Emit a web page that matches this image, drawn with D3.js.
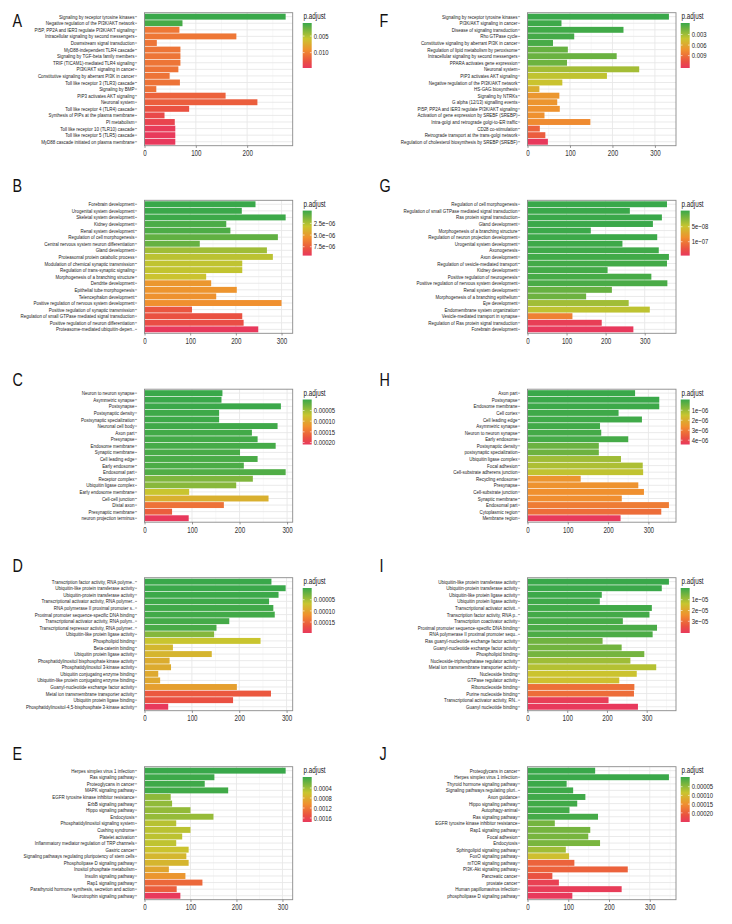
<!DOCTYPE html>
<html><head><meta charset="utf-8">
<script src="https://cdn.jsdelivr.net/npm/d3@7"></script>
<style>body{margin:0;background:#fff} svg{display:block}</style>
</head><body><svg id="c" width="732" height="924"></svg>
<script>
// ---------- DATA ----------
const catsA = ["Signaling by receptor tyrosine kinases","Negative regulation of the PI3K/AKT network","PI5P, PP2A and IER3 regulate PI3K/AKT signaling","Intracellular signaling by second messengers","Downstream signal transduction","MyD88-independent TLR4 cascade","Signaling by TGF-beta family members","TRIF (TICAM1)-mediated TLR4 signaling","PI3K/AKT signaling in cancer","Constitutive signaling by aberrant PI3K in cancer","Toll like receptor 3 (TLR3) cascade","Signaling by BMP","PIP3 activates AKT signaling","Neuronal system","Toll like receptor 4 (TLR4) cascade","Synthesis of PIPs at the plasma membrane","PI metabolism","Toll like receptor 10 (TLR10) cascade","Toll like receptor 5 (TLR5) cascade","MyD88 cascade initiated on plasma membrane"];
const valsA = [275,74,68,179,24,70,70,70,66,49,69,23,158,220,87,39,59,60,60,60];
const padjA = [0.0014,0.0018,0.0104,0.0104,0.0105,0.0105,0.0105,0.0105,0.0106,0.0106,0.0106,0.0107,0.0115,0.0117,0.0124,0.0130,0.0134,0.0141,0.0142,0.0143];
const ticksA = [0,100,200];
const legA = [0.005,0.010];
const legTxtA = ["0.005","0.010"];

const catsB = ["Forebrain development","Urogenital system development","Skeletal system development","Kidney development","Renal system development","Regulation of cell morphogenesis","Central nervous system neuron differentiation","Gland development","Proteasomal protein catabolic process","Modulation of chemical synaptic transmission","Regulation of trans-synaptic signaling","Morphogenesis of a branching structure","Dendrite development","Epithelial tube morphogenesis","Telencephalon development","Positive regulation of nervous system development","Positive regulation of synaptic transmission","Regulation of small GTPase mediated signal transduction","Positive regulation of neuron differentiation","Proteasome-mediated ubiquitin-depen.."];
const valsB = [243,213,309,179,188,292,121,268,281,214,214,135,146,202,157,300,104,214,217,249];
const padjB = [2e-9,5e-8,1e-7,4e-7,4.5e-7,9e-7,1.0e-6,2.3e-6,2.9e-6,3.0e-6,3.05e-6,3.3e-6,5.2e-6,5.3e-6,5.4e-6,5.5e-6,7.6e-6,7.8e-6,8.0e-6,9.16e-6];
const ticksB = [0,100,200,300];
const legB = [2.5e-6,5.0e-6,7.5e-6];
const legTxtB = ["2.5e\u221206","5.0e\u221206","7.5e\u221206"];

const catsC = ["Neuron to neuron synapse","Asymmetric synapse","Postsynapse","Postsynaptic density","Postsynaptic specialization","Neuronal cell body","Axon part","Presynapse","Endosome membrane","Synaptic membrane","Cell leading edge","Early endosome","Endosomal part","Receptor complex","Ubiquitin ligase complex","Early endosome membrane","Cell-cell junction","Distal axon","Presynaptic membrane","neuron projection terminus"];
const valsC = [164,162,287,157,157,280,226,238,276,201,238,209,297,228,193,94,261,167,58,93];
const padjC = [3.8e-6,4.5e-6,5e-6,6e-6,6e-6,7e-6,8e-6,9e-6,1e-5,1.1e-5,1.2e-5,1.3e-5,1.5e-5,3.8e-5,4.2e-5,7.4e-5,9.4e-5,1.48e-4,1.64e-4,2.04e-4];
const ticksC = [0,100,200,300];
const legC = [5e-5,1e-4,1.5e-4,2e-4];
const legTxtC = ["0.00005","0.00010","0.00015","0.00020"];

const catsD = ["Transcription factor activity, RNA polyme..","Ubiquitin-like protein transferase activity","Ubiquitin-protein transferase activity","Transcriptional activator activity, RNA polymer..","RNA polymerase II proximal promoter s..","Proximal promoter sequence-specific DNA binding","Transcriptional activator activity, RNA polym..","Transcriptional repressor activity, RNA polymer..","Ubiquitin-like protein ligase activity","Phospholipid binding","Beta-catenin binding","Ubiquitin protein ligase activity","Phosphatidylinositol bisphosphate kinase activity","Phosphatidylinositol 3-kinase activity","Ubiquitin conjugating enzyme binding","Ubiquitin-like protein conjugating enzyme binding","Guanyl-nucleotide exchange factor activity","Metal ion transmembrane transporter activity","Ubiquitin protein ligase binding","Phosphatidylinositol-4,5-bisphosphate 3-kinase activity"];
const valsD = [268,298,283,263,272,275,179,152,147,245,60,142,53,56,29,33,195,267,187,50];
const padjD = [2.6e-6,3e-6,4e-6,5e-6,6e-6,7e-6,8e-6,1e-5,3.8e-5,7e-5,8.2e-5,8.4e-5,9.2e-5,9.3e-5,9.5e-5,9.6e-5,1.04e-4,1.6e-4,1.66e-4,1.94e-4];
const ticksD = [0,100,200,300];
const legD = [5e-5,1e-4,1.5e-4];
const legTxtD = ["0.00005","0.00010","0.00015"];

const catsE = ["Herpes simplex virus 1 infection","Ras signaling pathway","Proteoglycans in cancer","MAPK signaling pathway","EGFR tyrosine kinase inhibitor resistance","ErbB signaling pathway","Hippo signaling pathway","Endocytosis","Phosphatidylinositol signaling system","Cushing syndrome","Platelet activation","Inflammatory mediator regulation of TRP channels","Gastric cancer","Signaling pathways regulating pluripotency of stem cells","Phospholipase D signaling pathway","Inositol phosphate metabolism","Insulin signaling pathway","Rap1 signaling pathway","Parathyroid hormone synthesis, secretion and action","Neurotrophin signaling pathway"];
const valsE = [307,152,131,182,57,60,100,150,69,100,82,69,96,91,96,53,89,126,70,78];
const padjE = [5e-6,2e-5,3e-5,4e-5,3.6e-4,3.7e-4,3.8e-4,3.9e-4,5.3e-4,5.4e-4,5.5e-4,5.6e-4,6.2e-4,7.2e-4,7.3e-4,8.6e-4,9.8e-4,1.30e-3,1.37e-3,1.715e-3];
const ticksE = [0,100,200,300];
const legE = [4e-4,8e-4,1.2e-3,1.6e-3];
const legTxtE = ["0.0004","0.0008","0.0012","0.0016"];

const catsF = ["Signaling by receptor tyrosine kinases","PI3K/AKT signaling in cancer","Disease of signaling transduction","Rho GTPase cycle","Constitutive signaling by aberrant PI3K in cancer","Regulation of lipid metabolism by peroxisome","Intracellular signaling by second messengers","PPARA activates gene expression","Neuronal system","PIP3 activates AKT signaling","Negative regulation of the PI3K/AKT network","HS-GAG biosynthesis","Signaling by NTRKs","G alpha (12/13) signalling events","PI5P, PP2A and IER3 regulate PI3K/AKT signaling","Activation of gene expression by SREBF (SREBP)","Intra-golgi and retrograde golgi-to-ER traffic","CD28 co-stimulation","Retrograde transport at the trans-golgi network","Regulation of cholesterol biosynthesis by SREBP (SREBF)"];
const valsF = [333,80,226,110,60,95,210,93,263,187,82,28,75,70,76,40,148,29,42,48];
const padjF = [5e-5,2e-4,3e-4,4e-4,5e-4,1.4e-3,1.5e-3,1.6e-3,3.2e-3,4.05e-3,4.4e-3,5.6e-3,6.95e-3,7.05e-3,7.2e-3,7.3e-3,7.6e-3,9.5e-3,9.8e-3,1.22e-2];
const ticksF = [0,100,200,300];
const legF = [0.003,0.006,0.009];
const legTxtF = ["0.003","0.006","0.009"];

const catsG = ["Regulation of cell morphogenesis","Regulation of small GTPase mediated signal transduction","Ras protein signal transduction","Gland development","Morphogenesis of a branching structure","Regulation of neuron projection development","Urogenital system development","Axonogenesis","Axon development","Regulation of vesicle-mediated transport","Kidney development","Positive regulation of neurogenesis","Positive regulation of nervous system development","Renal system development","Morphogenesis of a branching epithelium","Eye development","Endomembrane system organization","Vesicle-mediated transport in synapse","Regulation of Ras protein signal transduction","Forebrain development"];
const valsG = [357,262,344,321,162,332,243,336,362,357,205,317,358,216,150,259,313,115,190,271];
const padjG = [1e-10,3e-10,5e-10,8e-10,1e-9,1.5e-9,2e-9,2.5e-9,3e-9,3.5e-9,4e-9,5e-9,6e-9,1.6e-8,1.8e-8,3.6e-8,4.6e-8,9.4e-8,1.38e-7,1.425e-7];
const ticksG = [0,100,200,300];
const legG = [5e-8,1e-7];
const legTxtG = ["5e\u221208","1e\u221207"];

const catsH = ["Axon part","Postsynapse","Endosome membrane","Cell cortex","Cell leading edge","Asymmetric synapse","Neuron to neuron synapse","Early endosome","Postsynaptic density","postsynaptic specialization","Ubiquitin ligase complex","Focal adhesion","Cell-substrate adherens junction","Recycling endosome","Presynapse","Cell-substrate junction","Synaptic membrane","Endosomal part","Cytoplasmic region","Membrane region"];
const valsH = [267,327,327,226,284,180,183,250,177,177,232,286,287,132,275,289,234,351,332,231];
const padjH = [4.25e-8,6e-8,8e-8,1e-7,1.2e-7,1.4e-7,1.6e-7,1.8e-7,5.6e-7,5.8e-7,1.1e-6,1.25e-6,1.45e-6,2.5e-6,2.55e-6,2.6e-6,2.65e-6,2.95e-6,3.2e-6,4.32e-6];
const ticksH = [0,100,200,300];
const legH = [1e-6,2e-6,3e-6,4e-6];
const legTxtH = ["1e\u221206","2e\u221206","3e\u221206","4e\u221206"];

const catsI = ["Ubiquitin-like protein transferase activity","Ubiquitin-protein transferase activity","Ubiquitin-like protein ligase activity","Ubiquitin protein ligase activity","Transcriptional activator activit..","Transcription factor activity, RNA p..","Transcription coactivator activity","Proximal promoter sequence-specific DNA binding","RNA polymerase II proximal promoter sequ..","Ras guanyl-nucleotide exchange factor activity","Guanyl-nucleotide exchange factor activity","Phospholipid binding","Nucleoside-triphosphatase regulator activity","Metal ion transmembrane transporter activity","Nucleoside binding","GTPase regulator activity","Ribonucleoside binding","Purine nucleoside binding","Transcriptional activator activity, RN..","Guanyl nucleotide binding"];
const valsI = [356,338,187,182,313,307,240,326,315,189,237,294,259,324,275,231,269,268,204,278];
const padjI = [2e-7,4e-7,6e-7,8e-7,1e-6,1.2e-6,1.5e-6,1.8e-6,2e-6,5.5e-6,5.7e-6,6e-6,1.0e-5,1.2e-5,1.45e-5,1.5e-5,2.9e-5,2.95e-5,3.86e-5,3.98e-5];
const ticksI = [0,100,200,300];
const legI = [1e-5,2e-5,3e-5];
const legTxtI = ["1e\u221205","2e\u221205","3e\u221205"];

const catsJ = ["Proteoglycans in cancer","Herpes simplex virus 1 infection","Thyroid hormone signaling pathway","Signaling pathways regulating pluri..","Axon guidance","Hippo signaling pathway","Autophagy-animal","Ras signaling pathway","EGFR tyrosine kinase inhibitor resistance","Rap1 signaling pathway","Focal adhesion","Endocytosis","Sphingolipid signaling pathway","FoxO signaling pathway","mTOR signaling pathway","PI3K-Akt signaling pathway","Pancreatic cancer","prostate cancer","Human papillomavirus infection","phospholipase D signaling pathway"];
const valsJ = [166,347,96,112,142,122,103,173,67,154,149,178,94,102,115,246,61,77,231,110];
const padjJ = [1e-6,2e-6,3e-6,4e-6,5e-6,6e-6,7e-6,8e-6,3.6e-5,3.7e-5,3.8e-5,3.9e-5,6.2e-5,9.4e-5,1.92e-4,1.93e-4,2.08e-4,2.34e-4,2.4e-4,2.46e-4];
const ticksJ = [0,100,200,300];
const legJ = [5e-5,1e-4,1.5e-4,2e-4];
const legTxtJ = ["0.00005","0.00010","0.00015","0.00020"];

const letters = ["A","B","C","D","E","F","G","H","I","J"];

// ---------- BUILD ----------
const panels = [
 {cats:catsA, vals:valsA, p:padjA, ticks:ticksA, leg:legA, legTxt:legTxtA},
 {cats:catsB, vals:valsB, p:padjB, ticks:ticksB, leg:legB, legTxt:legTxtB},
 {cats:catsC, vals:valsC, p:padjC, ticks:ticksC, leg:legC, legTxt:legTxtC},
 {cats:catsD, vals:valsD, p:padjD, ticks:ticksD, leg:legD, legTxt:legTxtD},
 {cats:catsE, vals:valsE, p:padjE, ticks:ticksE, leg:legE, legTxt:legTxtE},
 {cats:catsF, vals:valsF, p:padjF, ticks:ticksF, leg:legF, legTxt:legTxtF},
 {cats:catsG, vals:valsG, p:padjG, ticks:ticksG, leg:legG, legTxt:legTxtG},
 {cats:catsH, vals:valsH, p:padjH, ticks:ticksH, leg:legH, legTxt:legTxtH},
 {cats:catsI, vals:valsI, p:padjI, ticks:ticksI, leg:legI, legTxt:legTxtI},
 {cats:catsJ, vals:valsJ, p:padjJ, ticks:ticksJ, leg:legJ, legTxt:legTxtJ}
];

const colLeft = [144.5, 527.5], colRight = [292.7, 676];
const rowTop = [12.7, 200.3, 389.2, 577.7, 766.7];
const plotH = 133;
const letterX = [12.5, 379.5];
const letterBase = [27, 192, 386, 572, 760];
const legX = [302.7, 680.7];
const SX = 0.76;
const FONT = "'Liberation Sans', Arial, sans-serif";

const stops = [0, 0.35, 0.6, 0.85, 1];
const stopCols = ["#39a84a","#c9c52f","#f0902f","#ea5141","#e8395c"];
const interp = d3.scaleLinear().domain(stops).range(stopCols).interpolate(d3.interpolateRgb).clamp(true);

const svg = d3.select("#c");
const defs = svg.append("defs");
const grad = defs.append("linearGradient").attr("id","pgrad").attr("x1",0).attr("y1",0).attr("x2",0).attr("y2",1);
d3.range(0,1.0001,0.05).forEach(t => grad.append("stop").attr("offset", t).attr("stop-color", interp(t)));

panels.forEach((P, i) => {
  const col = i < 5 ? 0 : 1, row = i % 5;
  const left = colLeft[col], right = colRight[col], top = rowTop[row], bottom = top + plotH;
  const g = svg.append("g");
  const xMax = d3.max(P.vals) * 1.05;
  const x = d3.scaleLinear().domain([0, xMax]).range([left, right]);
  const y = d3.scaleBand().domain(d3.range(P.cats.length)).range([top, bottom]).paddingInner(0.1).paddingOuter(0.15);
  const [pmin, pmax] = d3.extent(P.p);
  const tOf = p => (p - pmin) / (pmax - pmin);

  // letter
  svg.append("text").attr("transform", `translate(${letterX[col]},${letterBase[row]}) scale(0.82,1)`)
    .attr("font-family", FONT).attr("font-size", 17.5).attr("fill", "#111").text(letters[i]);

  // panel background
  g.append("rect").attr("x", left).attr("y", top).attr("width", right - left).attr("height", plotH).attr("fill", "#fff");
  // minor vertical grid
  const minor = P.ticks.map(t => t + 50).filter(t => t < xMax);
  g.selectAll(".mn").data(minor).join("line").attr("x1", d => x(d)).attr("x2", d => x(d)).attr("y1", top).attr("y2", bottom)
    .attr("stroke", "#f0f0f0").attr("stroke-width", 0.5);
  g.selectAll(".mj").data(P.ticks).join("line").attr("x1", d => x(d)).attr("x2", d => x(d)).attr("y1", top).attr("y2", bottom)
    .attr("stroke", "#e8e8e8").attr("stroke-width", 0.9);
  g.selectAll(".hy").data(d3.range(P.cats.length)).join("line").attr("x1", left).attr("x2", right)
    .attr("y1", d => y(d) + y.bandwidth() / 2).attr("y2", d => y(d) + y.bandwidth() / 2)
    .attr("stroke", "#e8e8e8").attr("stroke-width", 0.9);

  // bars
  g.selectAll(".bar").data(P.vals).join("rect")
    .attr("x", x(0)).attr("y", (d, k) => y(k)).attr("height", y.bandwidth())
    .attr("width", d => x(d) - x(0)).attr("fill", (d, k) => interp(tOf(P.p[k])));

  // border
  g.append("rect").attr("x", left).attr("y", top).attr("width", right - left).attr("height", plotH)
    .attr("fill", "none").attr("stroke", "#8a8a8a").attr("stroke-width", 0.9);

  // x axis
  const xa = g.append("g").attr("transform", `translate(0,${bottom})`)
    .call(d3.axisBottom(x).tickValues(P.ticks).tickSize(2.2).tickPadding(2).tickFormat(d3.format("d")));
  xa.select(".domain").remove();
  xa.selectAll("line").attr("stroke", "#666").attr("stroke-width", 0.7);
  xa.selectAll("text").attr("font-family", FONT).attr("font-size", 8.2).attr("fill", "#333")
    .attr("transform", `scale(${SX},1)`).attr("y", 4.5).attr("dy", "0.71em");

  // y axis labels
  const ya = g.append("g");
  P.cats.forEach((c, k) => {
    const cy = y(k) + y.bandwidth() / 2;
    ya.append("line").attr("x1", left - 9.6).attr("x2", left - 7.4).attr("y1", cy).attr("y2", cy)
      .attr("stroke", "#666").attr("stroke-width", 0.6);
    ya.append("text").attr("transform", `translate(${left - 10},${cy}) scale(${SX},1)`)
      .attr("text-anchor", "end").attr("dy", "0.35em")
      .attr("font-family", FONT).attr("font-size", 5.9).attr("fill", "#222").text(c);
  });

  // legend
  const lx = legX[col], ly = top + 10.3, lh = 45, lw = 9;
  g.append("text").attr("transform", `translate(${lx + 0.8},${ly - 3.6}) scale(${SX},1)`)
    .attr("font-family", FONT).attr("font-size", 8.3).attr("fill", "#222").text("p.adjust");
  g.append("rect").attr("x", lx).attr("y", ly).attr("width", lw).attr("height", lh).attr("fill", "url(#pgrad)");
  const ls = d3.scaleLinear().domain([pmin, pmax]).range([ly + lh * 0.025, ly + lh * 0.975]);
  P.leg.forEach((v, k) => {
    const yy = ls(v);
    g.append("line").attr("x1", lx).attr("x2", lx + 1.8).attr("y1", yy).attr("y2", yy).attr("stroke", "#fff").attr("stroke-width", 0.6);
    g.append("line").attr("x1", lx + lw - 1.8).attr("x2", lx + lw).attr("y1", yy).attr("y2", yy).attr("stroke", "#fff").attr("stroke-width", 0.6);
    g.append("text").attr("transform", `translate(${lx + lw + 2},${yy}) scale(${SX},1)`)
      .attr("dy", "0.35em").attr("font-family", FONT).attr("font-size", 7.8).attr("fill", "#222").text(P.legTxt[k]);
  });
});
</script>
</body></html>
